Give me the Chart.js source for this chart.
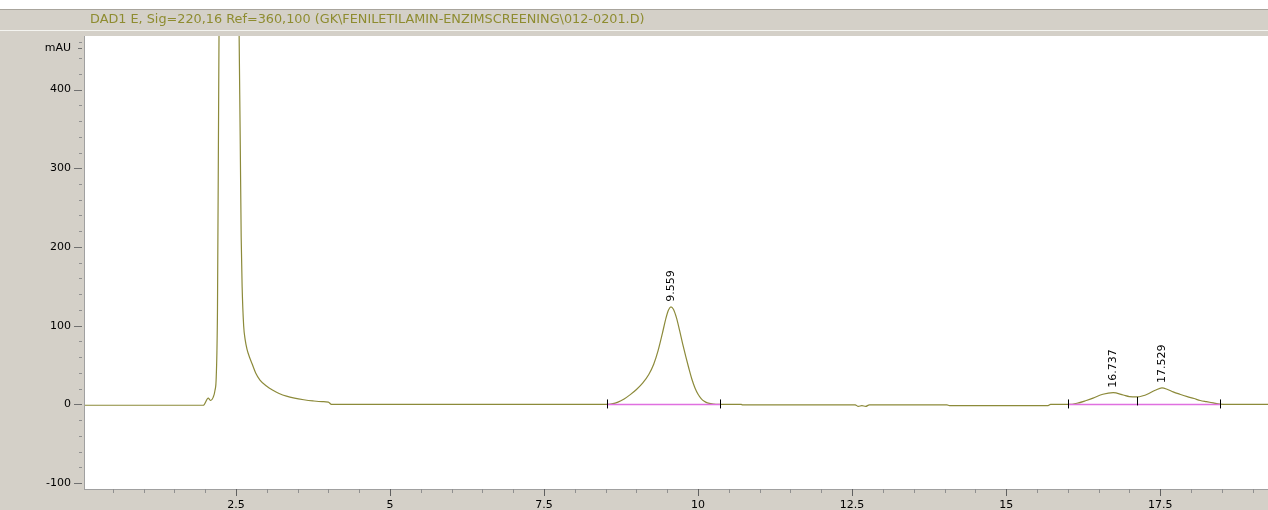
<!DOCTYPE html>
<html><head><meta charset="utf-8">
<script src="https://cdn.jsdelivr.net/npm/chart.js@4.4.1/dist/chart.umd.min.js"></script>
<style>html,body{margin:0;padding:0;background:#fff;overflow:hidden}canvas{display:block}</style>
</head><body>
<canvas id="c" width="1268" height="510"></canvas>
<script>
// ---------- data ----------
const titleText = 'DAD1 E, Sig=220,16 Ref=360,100 (GK\\FENILETILAMIN-ENZIMSCREENING\\012-0201.D)';

const times = [0.05, 1.0, 1.97, 2.05, 2.09, 2.13, 2.16, 2.18, 2.20, 2.22, 2.26, 2.40, 2.50, 2.55, 2.57, 2.585, 2.60, 2.625, 2.65, 2.68, 2.72, 2.76, 2.82, 2.89, 3.00, 3.10, 3.20, 3.32, 3.45, 3.60, 3.75, 3.90, 4.00, 4.05,
  8.45, 8.52, 8.60, 8.70, 8.80, 8.90, 9.00, 9.10, 9.20, 9.28, 9.35, 9.42, 9.48, 9.52, 9.559, 9.60, 9.65, 9.70, 9.75, 9.80, 9.85, 9.90, 9.95, 10.00, 10.05, 10.10, 10.15, 10.25, 10.31,
  10.70, 10.72, 12.55, 12.60, 12.66, 12.72, 12.78, 14.04, 14.08, 15.68, 15.72,
  16.01, 16.15, 16.30, 16.41, 16.57, 16.737, 16.90, 17.00, 17.13, 17.22, 17.29, 17.42, 17.529, 17.62, 17.71, 17.82, 17.94, 18.05, 18.15, 18.25, 18.36, 18.47, 18.60, 19.25];
const signal = [-1, -1, -1, 8, 5, 9, 18, 35, 120, 400, 900, 1500, 900, 480, 330, 212, 150, 100, 82, 70, 60, 52, 40, 31, 23, 18, 14, 10.5, 8, 6, 4.5, 3.5, 3, 0,
  0, 0, 0.8, 3, 7, 12.5, 19, 27, 38, 51, 68, 90, 110, 120, 124, 121, 110, 94, 77, 61, 46, 32, 21, 13, 7.5, 4, 2, 0.5, 0,
  0, -0.5, -0.5, -2.5, -1.5, -2.5, -0.5, -0.5, -1.5, -1.5, 0,
  0, 1.5, 5, 8, 13, 15, 12, 10, 9.5, 11, 13, 18, 21, 19, 16, 13, 10, 7.5, 5, 3.5, 2, 0.5, 0, 0];

const peakTimes = [9.559, 16.737, 17.529];
const peakHeights = [124, 15, 21];
const peakLabels = ['9.559', '16.737', '17.529'];

const baselineStarts = [8.52, 16.01];
const baselineEnds = [10.36, 18.47];
const baselineLevels = [0, 0];
const eventTimes = [8.52, 10.36, 16.01, 18.47];
const dropTimes = [17.13];
const dropHeights = [9.5];

const xMin = 0.05, xMax = 19.25;
const xMajorTicks = [2.5, 5, 7.5, 10, 12.5, 15, 17.5];
const xMinorTicks = [0.5,1,1.5,2,3,3.5,4,4.5,5.5,6,6.5,7,8,8.5,9,9.5,10.5,11,11.5,12,13,13.5,14,14.5,15.5,16,16.5,17,18,18.5,19];
const yMin = -107.4, yMax = 468;
const yMajorTicks = [-100, 0, 100, 200, 300, 400];
const yMinorTicks = [-80,-60,-40,-20,20,40,60,80,120,140,160,180,220,240,260,280,320,340,360,380,420,440,460];
const yUnit = 'mAU';
const yUnitPos = 453;

// ---------- styling ----------
const FONT = '"DejaVu Sans", sans-serif';
const PANEL = '#d4d0c8';

const framePlugin = {
  id: 'frame',
  beforeDraw(chart) {
    const {ctx, width, height, chartArea: a} = chart;
    ctx.save();
    ctx.fillStyle = PANEL; ctx.fillRect(0, 0, width, height);
    ctx.fillStyle = '#ffffff'; ctx.fillRect(0, 0, width, 9);
    ctx.fillStyle = '#a8a49c'; ctx.fillRect(0, 9, width, 1);
    ctx.fillStyle = '#f4f4f0'; ctx.fillRect(0, 30, width, 1);
    ctx.fillStyle = '#ffffff'; ctx.fillRect(a.left, a.top, a.right - a.left, a.bottom - a.top);
    // title
    ctx.font = '11px ' + FONT;
    const w = ctx.measureText(titleText).width;
    const size = 11 * 555 / w;
    ctx.font = size.toFixed(2) + 'px ' + FONT;
    ctx.fillStyle = '#8e8c30';
    ctx.textAlign = 'left'; ctx.textBaseline = 'middle';
    ctx.fillText(titleText, 90, 20);
    ctx.restore();
  },
  afterDraw(chart) {
    const {ctx, chartArea: a, scales: {x, y}} = chart;
    ctx.save();
    // borders
    ctx.fillStyle = '#a0a0a0';
    ctx.fillRect(a.left - 1, a.top, 1, a.bottom - a.top + 1);
    ctx.fillRect(a.left - 1, a.bottom, a.right - a.left + 1, 1);
    // y ticks
    ctx.strokeStyle = '#707070'; ctx.lineWidth = 1;
    ctx.beginPath();
    yMajorTicks.forEach(v => { const p = Math.round(y.getPixelForValue(v)) + 0.5; ctx.moveTo(74, p); ctx.lineTo(82, p); });
    { const p = Math.round(y.getPixelForValue(yUnitPos)) + 0.5; ctx.moveTo(78, p); ctx.lineTo(82, p); }
    ctx.stroke();
    ctx.strokeStyle = '#909090';
    ctx.beginPath();
    yMinorTicks.forEach(v => { const p = Math.round(y.getPixelForValue(v)) + 0.5; ctx.moveTo(79, p); ctx.lineTo(82, p); });
    ctx.stroke();
    // x ticks
    ctx.strokeStyle = '#606060';
    ctx.beginPath();
    xMajorTicks.forEach(v => { const p = Math.round(x.getPixelForValue(v)) + 0.5; ctx.moveTo(p, a.bottom); ctx.lineTo(p, a.bottom + 7); });
    ctx.stroke();
    ctx.strokeStyle = '#909090';
    ctx.beginPath();
    xMinorTicks.forEach(v => { const p = Math.round(x.getPixelForValue(v)) + 0.5; ctx.moveTo(p, a.bottom); ctx.lineTo(p, a.bottom + 4); });
    ctx.stroke();
    // integration events
    ctx.strokeStyle = '#000000';
    ctx.beginPath();
    eventTimes.forEach(t => { const p = Math.round(x.getPixelForValue(t)) + 0.5; const b = y.getPixelForValue(0); ctx.moveTo(p, b - 5); ctx.lineTo(p, b + 4); });
    dropTimes.forEach((t, i) => { const p = Math.round(x.getPixelForValue(t)) + 0.5; ctx.moveTo(p, y.getPixelForValue(dropHeights[i])); ctx.lineTo(p, y.getPixelForValue(0) + 1); });
    ctx.stroke();
    // peak labels
    ctx.fillStyle = '#000000';
    ctx.font = '11px ' + FONT;
    ctx.textAlign = 'left'; ctx.textBaseline = 'middle';
    peakTimes.forEach((t, i) => {
      ctx.save();
      ctx.translate(x.getPixelForValue(t), y.getPixelForValue(peakHeights[i]) - 5);
      ctx.rotate(-Math.PI / 2);
      ctx.fillText(peakLabels[i], 0, 0);
      ctx.restore();
    });
    ctx.restore();
  }
};

const datasets = [{
  label: 'DAD1 E',
  data: times.map((t, i) => ({x: t, y: signal[i]})),
  borderColor: '#8c8a3a',
  borderWidth: 1.2,
  pointRadius: 0,
  cubicInterpolationMode: 'monotone',
  order: 1
}];
baselineStarts.forEach((s, i) => {
  datasets.push({
    label: 'baseline ' + (i + 1),
    data: [{x: s, y: baselineLevels[i]}, {x: baselineEnds[i], y: baselineLevels[i]}],
    borderColor: '#e070e0',
    borderWidth: 1.5,
    pointRadius: 0,
    order: 0
  });
});

new Chart(document.getElementById('c'), {
  type: 'line',
  data: {datasets},
  options: {
    responsive: false,
    animation: false,
    events: [],
    layout: {padding: {top: 36, left: 0, right: 0, bottom: 0}},
    plugins: {legend: {display: false}, tooltip: {enabled: false}, title: {display: false}},
    scales: {
      x: {
        type: 'linear', min: xMin, max: xMax,
        grid: {display: false, drawTicks: false},
        border: {display: false},
        afterBuildTicks: s => { s.ticks = xMajorTicks.map(v => ({value: v})); },
        afterFit: s => { s.height = 21; },
        ticks: {
          color: '#000', padding: 10, maxRotation: 0, autoSkip: false,
          font: {family: FONT, size: 11},
          callback: v => String(v)
        }
      },
      y: {
        type: 'linear', min: yMin, max: yMax,
        grid: {display: false, drawTicks: false},
        border: {display: false},
        afterBuildTicks: s => { s.ticks = yMajorTicks.concat([yUnitPos]).map(v => ({value: v})); },
        afterFit: s => { s.width = 85; },
        ticks: {
          color: '#000', padding: 14, autoSkip: false,
          font: {family: FONT, size: 11},
          callback: v => (v === yUnitPos ? yUnit : String(v))
        }
      }
    }
  },
  plugins: [framePlugin]
});
</script>
</body></html>
